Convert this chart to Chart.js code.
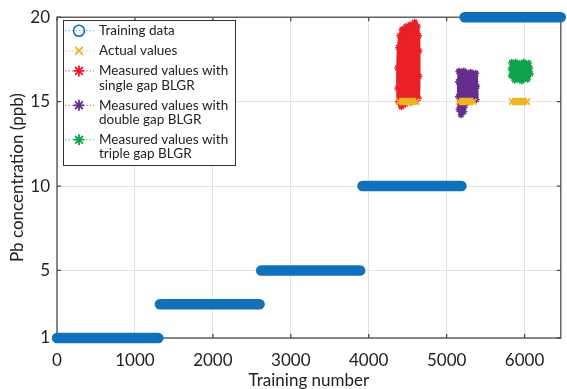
<!DOCTYPE html>
<html>
<head>
<meta charset="utf-8">
<script src="https://cdn.jsdelivr.net/npm/chart.js@4.4.1/dist/chart.umd.min.js"></script>
<style>
  html, body { margin: 0; padding: 0; background: #fff; }
  #wrap { width: 567px; height: 389px; }
</style>
</head>
<body>
<div id="wrap"><canvas id="myChart" width="567" height="389"></canvas></div>
<script>
// axis ticks
const xTicks = [0, 1000, 2000, 3000, 4000, 5000, 6000];
const yTicks = [1, 5, 10, 15, 20];

// training data: each block sits on one Pb level
const trainLevel = [1, 3, 5, 10, 20];
const trainFrom = [0, 1320, 2620, 3920, 5230];
const trainTo = [1300, 2600, 3890, 5190, 6465];

// actual values (15 ppb) for the three test runs
const actualLevel = 15;
const actualFrom = [4390, 5160, 5840];
const actualTo = [4610, 5345, 6030];

// outlines of the measured clouds (training number, ppb)
const singleX = [4430, 4480, 4530, 4590, 4625, 4640, 4645, 4645, 4635, 4600, 4540, 4470, 4420, 4380, 4372, 4372, 4382, 4400];
const singleY = [19.25, 19.45, 19.55, 19.7, 19.45, 18.9, 18.0, 16.5, 15.2, 15.0, 14.95, 14.85, 14.7, 15.0, 15.8, 17.0, 18.2, 18.9];
const doubleX = [5160, 5220, 5259, 5310, 5374, 5385, 5380, 5284, 5234, 5221, 5185, 5160, 5152, 5152];
const doubleY = [16.78, 16.82, 16.7, 16.74, 16.68, 15.9, 15.12, 15.06, 14.76, 14.41, 14.22, 14.53, 15.29, 16.18];
const tripleX = [5835, 5886, 5937, 5988, 6052, 6068, 6075, 6040, 5963, 5873, 5829, 5826];
const tripleY = [17.31, 17.34, 17.26, 17.34, 17.28, 17.0, 16.65, 16.33, 16.22, 16.27, 16.53, 16.94];

const BLUE = '#1170ba', ORANGE = '#f0b323', RED = '#ec1f27', PURPLE = '#662d91', GREEN = '#0da44b';
const FONT = 'Lato, "Noto Sans", sans-serif';

function segments(from, to, level) {
	let out = [];
	for (let i = 0; i < from.length; i++) {
		let lv = Array.isArray(level) ? level[i] : level;
		out.push({x: from[i], y: lv}, {x: to[i], y: lv});
		if (i < from.length - 1) out.push({x: (to[i] + from[i + 1]) / 2, y: null});
	}
	return out;
}

function outline(xs, ys) {
	let pts = xs.map((x, i) => ({x: x, y: ys[i]}));
	pts.push({x: xs[0], y: ys[0]});
	return pts;
}

const legendEntries = [
	{lines: ['Training data'], style: 'circle', color: BLUE, dash: '#8dbbe0'},
	{lines: ['Actual values'], style: 'cross', color: ORANGE, dash: '#f5cf80'},
	{lines: ['Measured values with', 'single gap BLGR'], style: 'star', color: RED, dash: '#f07a7a'},
	{lines: ['Measured values with', 'double gap BLGR'], style: 'star', color: PURPLE, dash: '#ef8a70'},
	{lines: ['Measured values with', 'triple gap BLGR'], style: 'star', color: GREEN, dash: '#7fcf9c'}
];

function drawMarker(ctx, style, x, y, r) {
	ctx.beginPath();
	if (style === 'circle') {
		ctx.arc(x, y, r, 0, Math.PI * 2);
	} else {
		const d = r * Math.SQRT1_2;
		ctx.moveTo(x - d, y - d); ctx.lineTo(x + d, y + d);
		ctx.moveTo(x - d, y + d); ctx.lineTo(x + d, y - d);
		if (style === 'star') {
			ctx.moveTo(x - r, y); ctx.lineTo(x + r, y);
			ctx.moveTo(x, y - r); ctx.lineTo(x, y + r);
		}
	}
	ctx.stroke();
}

// box round the plot with inward tick marks
const boxAxes = {
	id: 'boxAxes',
	beforeDatasetsDraw(chart) {
		const {ctx, chartArea: a, scales} = chart;
		ctx.save();
		ctx.strokeStyle = '#4d4d4d';
		ctx.lineWidth = 1.3;
		ctx.strokeRect(a.left, a.top, a.right - a.left, a.bottom - a.top);
		ctx.beginPath();
		xTicks.forEach(v => {
			const px = scales.x.getPixelForValue(v);
			ctx.moveTo(px, a.bottom); ctx.lineTo(px, a.bottom - 4);
			ctx.moveTo(px, a.top); ctx.lineTo(px, a.top + 4);
		});
		yTicks.forEach(v => {
			const py = scales.y.getPixelForValue(v);
			ctx.moveTo(a.left, py); ctx.lineTo(a.left + 4, py);
			ctx.moveTo(a.right, py); ctx.lineTo(a.right - 4, py);
		});
		ctx.stroke();
		ctx.restore();
	}
};

const boxLegend = {
	id: 'boxLegend',
	afterDraw(chart) {
		const ctx = chart.ctx;
		ctx.save();
		ctx.fillStyle = '#fff';
		ctx.fillRect(63.5, 20.5, 172, 145);
		ctx.strokeStyle = '#333';
		ctx.lineWidth = 1;
		ctx.strokeRect(63.5, 20.5, 172, 145);
		ctx.font = '13.5px ' + FONT;
		ctx.textBaseline = 'middle';
		let y = 30.7;
		legendEntries.forEach(e => {
			ctx.setLineDash([1.5, 2]);
			ctx.strokeStyle = e.dash;
			ctx.lineWidth = 1.2;
			ctx.beginPath(); ctx.moveTo(65, y); ctx.lineTo(94, y); ctx.stroke();
			ctx.setLineDash([]);
			ctx.strokeStyle = e.color;
			ctx.lineWidth = e.style === 'circle' ? 1.6 : 1.8;
			drawMarker(ctx, e.style, 79, y, 5.5);
			ctx.fillStyle = '#222';
			e.lines.forEach((t, i) => ctx.fillText(t, 99, y + i * 14.3));
			y += (e.lines.length - 1) * 14.3 + 20.1;
		});
		ctx.restore();
	}
};

function cloud(label, xs, ys, color) {
	return {
		label: label,
		data: outline(xs, ys),
		borderColor: color,
		backgroundColor: color,
		borderWidth: 3,
		fill: 'shape',
		tension: 0.35,
		pointStyle: 'star',
		pointRadius: 3.5,
		pointBorderWidth: 1.4,
		pointBorderColor: color
	};
}

const ctx = document.getElementById('myChart').getContext('2d');
new Chart(ctx, {
	type: 'line',
	data: {
		datasets: [
			{
				label: 'Training data',
				data: segments(trainFrom, trainTo, trainLevel),
				borderColor: BLUE,
				borderWidth: 10.5,
				borderCapStyle: 'round',
				pointRadius: 0,
				clip: false
			},
			{
				label: 'Actual values',
				data: segments(actualFrom, actualTo, actualLevel),
				borderColor: ORANGE,
				backgroundColor: ORANGE,
				borderWidth: 7.5,
				borderCapStyle: 'butt',
				pointStyle: 'crossRot',
				pointRadius: 4.2,
				pointBorderWidth: 2,
				pointBorderColor: ORANGE,
				clip: false
			},
			cloud('Measured values with single gap BLGR', singleX, singleY, RED),
			cloud('Measured values with double gap BLGR', doubleX, doubleY, PURPLE),
			cloud('Measured values with triple gap BLGR', tripleX, tripleY, GREEN)
		]
	},
	options: {
		responsive: false,
		animation: false,
		devicePixelRatio: 1,
		layout: { padding: { left: 0, right: 2.5, top: 15, bottom: 0 } },
		plugins: {
			legend: { display: false },
			tooltip: { enabled: false }
		},
		scales: {
			x: {
				type: 'linear',
				min: 0,
				max: 6465,
				afterBuildTicks: s => { s.ticks = xTicks.map(v => ({value: v})); },
				afterFit: s => { s.height = 51; },
				grid: { color: '#e3e3e3', lineWidth: 1, drawTicks: false },
				border: { display: false },
				ticks: { color: '#222', font: { family: FONT, size: 17 }, padding: 12, maxRotation: 0, callback: v => String(v) },
				title: { display: true, text: 'Training number', color: '#222', font: { family: FONT, size: 17, lineHeight: 1 }, padding: { top: 0, bottom: 0 } }
			},
			y: {
				type: 'linear',
				min: 1,
				max: 20,
				afterBuildTicks: s => { s.ticks = yTicks.map(v => ({value: v})); },
				afterFit: s => { s.width = 57; },
				grid: { color: '#e3e3e3', lineWidth: 1, drawTicks: false },
				border: { display: false },
				ticks: { color: '#222', font: { family: FONT, size: 17 }, padding: 7, callback: v => String(v) },
				title: { display: true, text: 'Pb concentration (ppb)', color: '#222', font: { family: FONT, size: 17, lineHeight: 1 }, padding: { top: 9, bottom: 0 } }
			}
		}
	},
	plugins: [boxAxes, boxLegend]
});
</script>
</body>
</html>
